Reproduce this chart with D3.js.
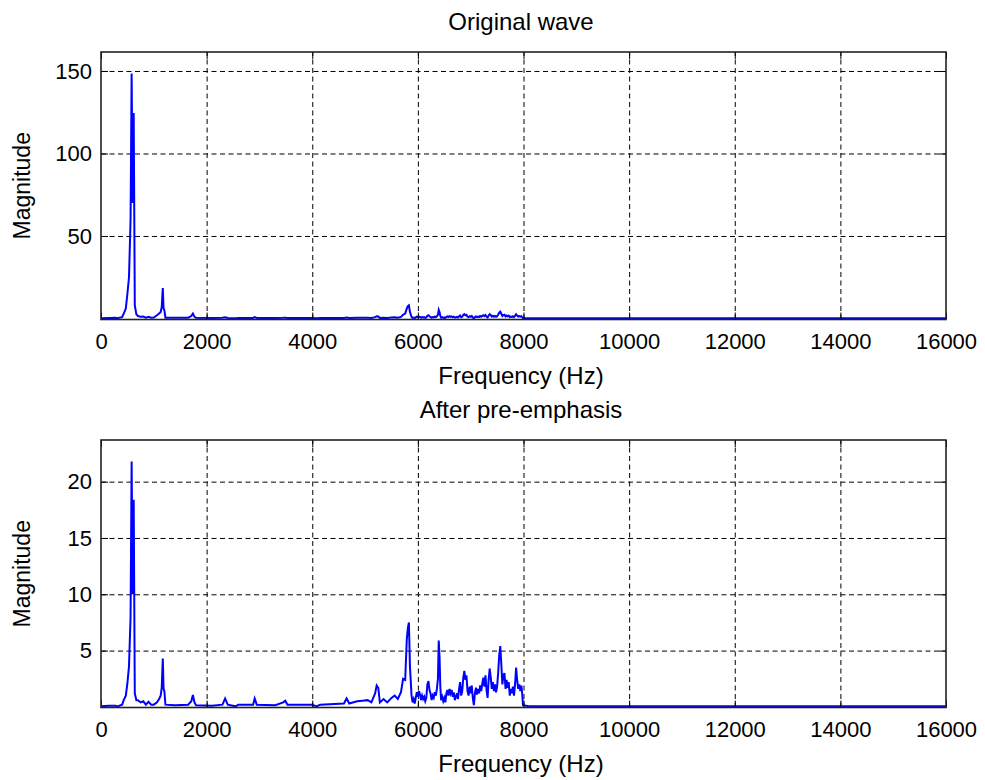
<!DOCTYPE html>
<html>
<head>
<meta charset="utf-8">
<script src="https://cdn.jsdelivr.net/npm/d3@7"></script>
<style>
  html, body { margin: 0; padding: 0; background: #fff; }
  svg { display: block; font-family: "Liberation Sans", Arial, sans-serif; }
</style>
</head>
<body>
<svg id="chart" width="985" height="780"></svg>
<script>
// ---- Data ----
const freqHz = [
  0, 150, 280, 300, 400, 430, 470, 500, 530, 560,
  580, 600, 619, 640, 670, 700, 750, 800, 850, 900,
  950, 1000, 1060, 1100, 1130, 1150, 1170, 1185, 1200, 1220,
  1400, 1650, 1710, 1740, 1770, 1800, 2100, 2300, 2350, 2400,
  2550, 2600, 2880, 2910, 2950, 3300, 3450, 3490, 3530, 4000,
  4080, 4150, 4600, 4650, 4700, 4850, 4950, 5050, 5120, 5190,
  5220, 5250, 5280, 5350, 5420, 5500, 5560, 5620, 5680, 5720,
  5760, 5790, 5810, 5830, 5850,
  5880, 5900, 5920, 5940, 5960, 5980, 6000, 6020, 6040, 6060,
  6080, 6100, 6120, 6140, 6160, 6180, 6200, 6220, 6240, 6260,
  6280, 6300, 6320, 6340, 6360, 6380, 6395, 6410, 6425, 6440,
  6460, 6480, 6500, 6520, 6540, 6560, 6580, 6600, 6620, 6640,
  6660, 6680, 6700, 6720, 6740, 6760, 6780, 6800, 6820, 6840,
  6860, 6880, 6900, 6920, 6940, 6960, 6980, 7000, 7020, 7040,
  7060, 7080, 7100, 7120, 7140, 7160, 7180, 7200, 7220, 7240,
  7260, 7280, 7300, 7320, 7340, 7360, 7380, 7400, 7420, 7440,
  7460, 7480, 7500, 7520, 7540, 7560, 7580, 7600, 7620, 7640,
  7660, 7680, 7700, 7720, 7740, 7760, 7780, 7800, 7820, 7840,
  7860, 7880, 7900, 7920, 7940, 7960, 7975, 7990, 8100, 12000,
  16000
];
const magOriginal = [
  0.2, 0.3, 0.4, 0.2, 0.8, 3, 6, 15, 25, 60,
  148.5, 70, 124.5, 8, 2.5, 1.5, 1, 1.2, 0.5, 1,
  0.5, 0.6, 2, 3, 4, 7, 18.5, 6, 5, 0.5,
  0.4, 0.5, 1.5, 3, 1, 0.4, 0.3, 0.4, 0.8, 0.3,
  0.2, 0.3, 0.3, 0.8, 0.3, 0.3, 0.4, 0.5, 0.3, 0.3,
  0.1, 0.3, 0.3, 0.6, 0.3, 0.4, 0.4, 0.4, 0.3, 0.8,
  1.4, 1.2, 0.3, 0.5, 0.3, 0.6, 0.7, 0.5, 1.0, 2.3,
  3.0, 6.0, 7.5, 8.0, 4.0,
  0.9, 0.4, 0.6, 0.3, 0.7, 1.1, 0.8, 1.2, 1.0, 0.5,
  0.9, 0.6, 0.8, 0.4, 0.7, 1.7, 2.0, 1.3, 1.0, 0.5,
  0.9, 0.7, 1.1, 0.9, 1.4, 2.2, 5.2, 3.9, 1.6, 0.5,
  0.8, 0.4, 0.7, 0.3, 1.0, 1.3, 0.9, 1.4, 1.0, 1.3,
  0.8, 1.1, 0.5, 0.8, 1.0, 0.6, 1.3, 1.8, 0.8, 1.1,
  2.1, 2.6, 1.9, 2.2, 1.1, 0.8, 1.4, 1.0, 1.5, 0.6,
  0.1, 0.9, 1.3, 0.9, 1.2, 0.9, 1.5, 1.1, 1.6, 2.0,
  1.4, 2.1, 1.1, 0.6, 1.8, 2.6, 2.0, 1.2, 1.7, 1.1,
  1.5, 1.0, 1.4, 2.3, 3.5, 4.1, 2.9, 1.5, 2.1, 2.3,
  1.2, 1.8, 1.3, 1.7, 0.8, 1.2, 0.9, 1.4, 0.8, 1.5,
  2.6, 1.8, 1.2, 1.5, 1.1, 1.4, 0.9, 0.1, 0.1, 0.1,
  0.1
];
const magEmphasis = [
  0.05, 0.1, 0.1, 0.02, 0.2, 0.6, 1.0, 2.1, 3.6, 8,
  21.8, 10, 18.4, 1.2, 0.6, 0.6, 0.4, 0.5, 0.2, 0.45,
  0.2, 0.2, 0.4, 0.7, 1.0, 1.7, 4.3, 1.6, 1.4, 0.2,
  0.15, 0.2, 0.5, 1.05, 0.4, 0.15, 0.1, 0.2, 0.75, 0.2,
  0.05, 0.2, 0.2, 0.75, 0.2, 0.15, 0.4, 0.55, 0.2, 0.2,
  0.05, 0.2, 0.3, 0.75, 0.3, 0.5, 0.55, 0.6, 0.4, 1.2,
  1.9, 1.7, 0.4, 0.7, 0.4, 0.8, 1.0, 0.7, 1.3, 2.5,
  2.4, 6.0, 7.0, 7.5, 3.6,
  1.0, 0.4, 0.7, 0.3, 0.8, 1.3, 0.9, 1.4, 1.1, 0.6,
  1.0, 0.7, 0.9, 0.5, 0.8, 2.0, 2.3, 1.5, 1.2, 0.6,
  1.0, 0.8, 1.3, 1.0, 1.6, 2.5, 5.9, 4.5, 1.8, 0.6,
  0.9, 0.5, 0.8, 0.4, 1.2, 1.5, 1.0, 1.6, 1.2, 1.5,
  0.9, 1.3, 0.6, 0.9, 1.2, 0.7, 1.6, 2.2, 1.0, 1.4,
  2.6, 3.2, 2.4, 2.8, 1.4, 1.0, 1.8, 1.2, 1.9, 0.8,
  0.15, 1.2, 1.7, 1.1, 1.6, 1.2, 1.9, 1.4, 2.1, 2.6,
  1.8, 2.8, 1.5, 0.8, 2.4, 3.4, 2.6, 1.6, 2.2, 1.4,
  2.0, 1.3, 1.8, 3.0, 4.6, 5.4, 3.8, 2.0, 2.8, 3.0,
  1.6, 2.4, 1.7, 2.2, 1.0, 1.6, 1.2, 1.8, 1.0, 2.0,
  3.5, 2.4, 1.6, 2.0, 1.4, 1.9, 1.2, 0.15, 0.05, 0.05,
  0.05
];
const xTicks = [0, 2000, 4000, 6000, 8000, 10000, 12000, 14000, 16000];
const yTicksOriginal = [50, 100, 150];
const yTicksEmphasis = [5, 10, 15, 20];
const titles = ["Original wave", "After pre-emphasis"];
const xLabel = "Frequency (Hz)";
const yLabel = "Magnitude";

// ---- Layout ----
const svg = d3.select("#chart");
svg.append("rect").attr("width", 985).attr("height", 780).attr("fill", "#fff");

const panels = [
  { title: titles[0], mags: magOriginal, yTicks: yTicksOriginal, ymax: 161.5,
    left: 101, right: 946, top: 52, zero: 318.5, bottom: 319.5, titleY: 30 },
  { title: titles[1], mags: magEmphasis, yTicks: yTicksEmphasis, ymax: 23.7,
    left: 101, right: 946, top: 440, zero: 706.9, bottom: 707.5, titleY: 418 }
];

const FONT = '"Liberation Sans", Arial, sans-serif';

panels.forEach((p, i) => {
  const x = d3.scaleLinear().domain([0, 16000]).range([p.left, p.right]);
  const y = d3.scaleLinear().domain([0, p.ymax]).range([p.zero, p.top]);
  const g = svg.append("g");
  const h = p.bottom - p.top;
  const w = p.right - p.left;

  // grid lines (dashed)
  const gridX = g.append("g").attr("transform", `translate(0,${p.bottom})`)
    .call(d3.axisBottom(x).tickValues(xTicks.slice(1, -1)).tickSize(-h).tickFormat(""));
  const gridY = g.append("g").attr("transform", `translate(${p.left},0)`)
    .call(d3.axisLeft(y).tickValues(p.yTicks).tickSize(-w).tickFormat(""));
  [gridX, gridY].forEach(gg => {
    gg.select(".domain").remove();
    gg.selectAll("line").attr("stroke", "#000").attr("stroke-width", 1)
      .attr("stroke-dasharray", "5,3.5");
  });

  // clip for the data line
  const clipId = "clip" + i;
  svg.append("clipPath").attr("id", clipId).append("rect")
    .attr("x", p.left).attr("y", p.top).attr("width", w).attr("height", h);

  const line = d3.line().x((d, k) => x(freqHz[k])).y(d => y(d));
  g.append("path").datum(p.mags)
    .attr("clip-path", `url(#${clipId})`)
    .attr("fill", "none").attr("stroke", "#0000ff").attr("stroke-width", 2)
    .attr("stroke-linejoin", "miter")
    .attr("d", line);

  // inner tick marks on all four sides + labels
  const axB = g.append("g").attr("transform", `translate(0,${p.bottom})`)
    .call(d3.axisBottom(x).tickValues(xTicks).tickFormat(d3.format("d"))
      .tickSizeInner(-7).tickSizeOuter(0).tickPadding(14));
  const axT = g.append("g").attr("transform", `translate(0,${p.top})`)
    .call(d3.axisTop(x).tickValues(xTicks).tickSizeInner(-7).tickSizeOuter(0).tickFormat(""));
  const axL = g.append("g").attr("transform", `translate(${p.left},0)`)
    .call(d3.axisLeft(y).tickValues(p.yTicks).tickFormat(d3.format("d"))
      .tickSizeInner(-7).tickSizeOuter(0).tickPadding(9));
  const axR = g.append("g").attr("transform", `translate(${p.right},0)`)
    .call(d3.axisRight(y).tickValues(p.yTicks).tickSizeInner(-7).tickSizeOuter(0).tickFormat(""));
  [axB, axT, axL, axR].forEach(a => {
    a.select(".domain").remove();
    a.selectAll("line").attr("stroke", "#000").attr("stroke-width", 1);
    a.selectAll("text").attr("fill", "#000").attr("font-size", 22).attr("font-family", FONT);
  });

  // frame
  g.append("rect").attr("x", p.left).attr("y", p.top).attr("width", w).attr("height", h)
    .attr("fill", "none").attr("stroke", "#222").attr("stroke-width", 1.6);

  // title and labels
  g.append("text").attr("x", 521).attr("y", p.titleY)
    .attr("text-anchor", "middle").attr("font-size", 24).attr("fill", "#000").text(p.title);
  g.append("text").attr("x", 521).attr("y", p.bottom + 64)
    .attr("text-anchor", "middle").attr("font-size", 24).attr("fill", "#000").text(xLabel);
  g.append("text")
    .attr("transform", `translate(30,${(p.top + p.bottom) / 2}) rotate(-90)`)
    .attr("text-anchor", "middle").attr("font-size", 23).attr("fill", "#000").text(yLabel);
});
</script>
</body>
</html>
